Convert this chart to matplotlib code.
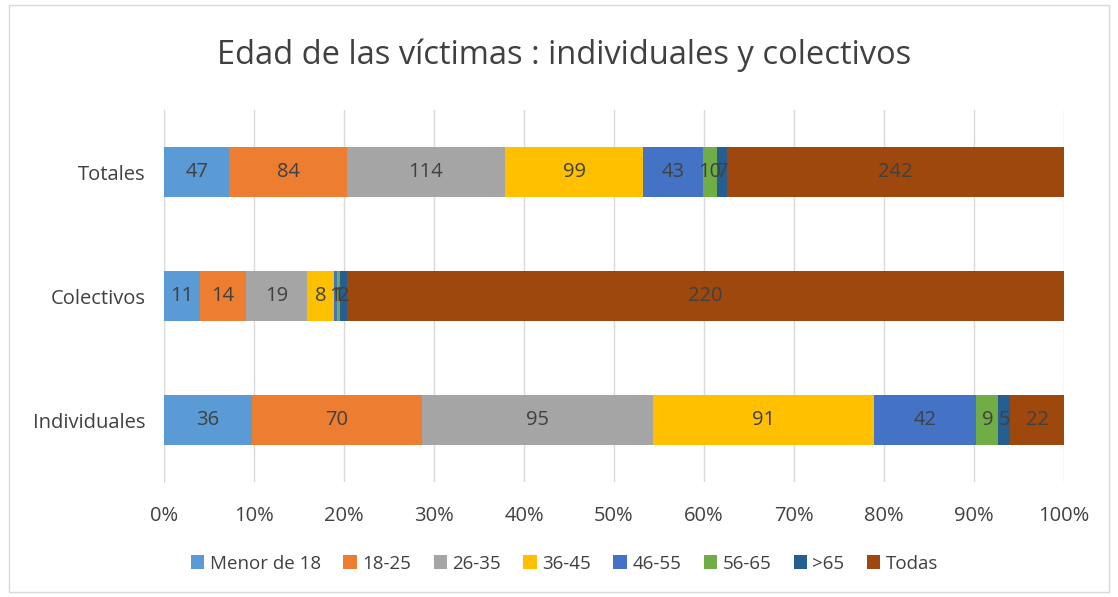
import matplotlib.pyplot as plt
import numpy as np

categories = ['Individuales', 'Colectivos', 'Totales']
series = ['Menor de 18', '18-25', '26-35', '36-45', '46-55', '56-65', '>65', 'Todas']
individuales = [36, 70, 95, 91, 42, 9, 5, 22]
colectivos = [11, 14, 19, 8, 1, 1, 2, 220]
totales = [47, 84, 114, 99, 43, 10, 7, 242]
colors = ['#5B9BD5', '#ED7D31', '#A5A5A5', '#FFC000', '#4472C4', '#70AD47', '#255E91', '#9E480E']

plt.rcParams['font.family'] = ['Open Sans', 'DejaVu Sans']

data = np.array([individuales, colectivos, totales], dtype=float)
pct = data / data.sum(axis=1, keepdims=True)

fig = plt.figure(figsize=(11.18, 5.97), dpi=100)
ax = fig.add_axes([0.1467, 0.1926, 0.805, 0.6231])

y = np.arange(len(categories))
left = np.zeros(len(categories))
for i, name in enumerate(series):
    ax.barh(y, pct[:, i], left=left, height=0.4, color=colors[i], label=name, zorder=3)
    for j in range(len(categories)):
        ax.text(left[j] + pct[j, i] / 2, y[j], str(int(data[j, i])), ha='center', va='center',
                fontsize=14.5, color='#404040', zorder=4)
    left += pct[:, i]

ax.set_xlim(0, 1)
ax.set_ylim(-0.5, 2.5)
ax.set_xticks(np.arange(0, 1.01, 0.1))
ax.set_xticklabels([f'{int(round(v * 100))}%' for v in np.arange(0, 1.01, 0.1)])
ax.set_yticks(y)
ax.set_yticklabels(categories)
ax.tick_params(axis='both', length=0, labelsize=14.5, colors='#404040')
ax.tick_params(axis='x', pad=17)
ax.tick_params(axis='y', pad=13)
ax.grid(axis='x', color='#D9D9D9', linewidth=1, zorder=0)
for s in ['top', 'right', 'bottom']:
    ax.spines[s].set_visible(False)
ax.spines['left'].set_color('#D9D9D9')

fig.suptitle('Edad de las víctimas : individuales y colectivos', x=0.505, y=0.935,
             fontsize=23.5, color='#404040')

handles, labels = ax.get_legend_handles_labels()
fig.legend(handles, labels, loc='center', bbox_to_anchor=(0.505, 0.056), ncol=8, frameon=False,
           fontsize=13.5, labelcolor='#404040', handlelength=0.7, handleheight=0.7,
           handletextpad=0.3, columnspacing=1.2)

fig.patches.append(plt.Rectangle((0.008, 0.008), 0.984, 0.984, transform=fig.transFigure,
                                 fill=False, edgecolor='#D9D9D9', linewidth=1))

fig.savefig('out.png', dpi=100)
